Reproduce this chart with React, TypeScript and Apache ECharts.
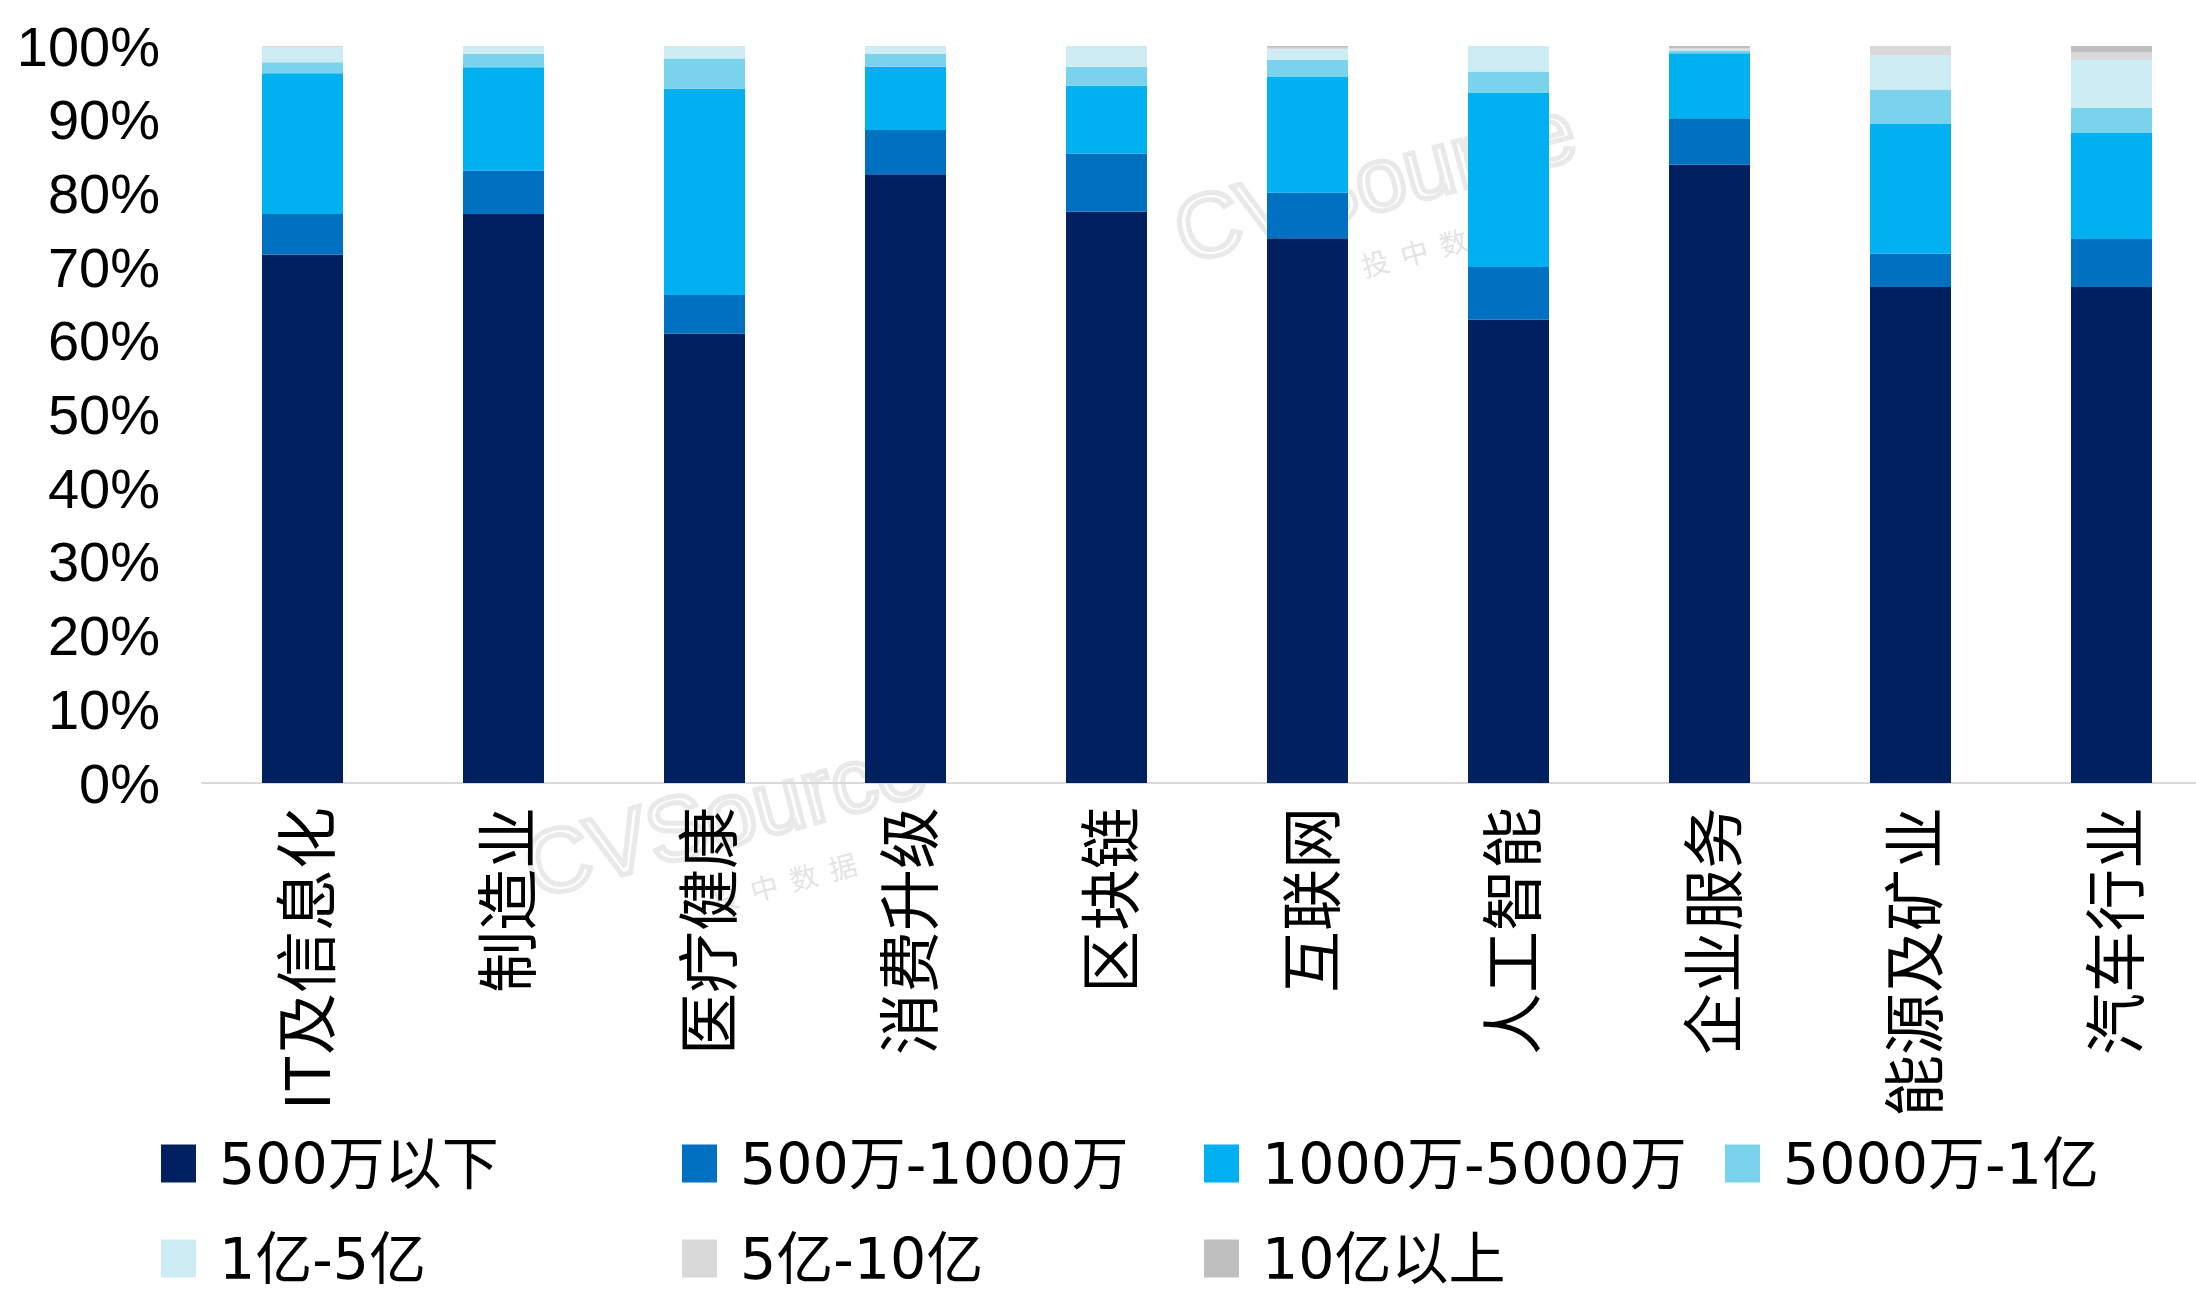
import React, { useEffect, useRef } from "react";
import * as echarts from "echarts";

const categories = ["IT及信息化", "制造业", "医疗健康", "消费升级", "区块链", "互联网", "人工智能", "企业服务", "能源及矿业", "汽车行业"];
const seriesNames = ["500万以下", "500万-1000万", "1000万-5000万", "5000万-1亿", "1亿-5亿", "5亿-10亿", "10亿以上"];
const colors = ["#002060", "#0070C0", "#00B0F0", "#7AD3EC", "#CDECF4", "#D9D9D9", "#BFBFBF"];

const below500w = [71.7, 77.2, 61.0, 82.6, 77.5, 73.9, 62.9, 83.9, 67.3, 67.3];
const w500to1000 = [5.5, 5.9, 5.2, 6.0, 7.9, 6.2, 7.1, 6.3, 4.5, 6.5];
const w1000to5000 = [19.1, 14.0, 28.0, 8.6, 9.2, 15.7, 23.7, 8.8, 17.7, 14.4];
const w5000to1y = [1.5, 1.8, 4.1, 1.7, 2.6, 2.35, 2.85, 0.4, 4.6, 3.4];
const y1to5 = [2.0, 1.1, 1.6, 1.1, 2.8, 1.4, 3.45, 0.1, 4.6, 6.5];
const y5to10 = [0.2, 0, 0.1, 0, 0, 0.2, 0, 0.2, 1.3, 1.1];
const above10y = [0, 0, 0, 0, 0, 0.25, 0, 0.3, 0, 0.8];

const seriesData = [below500w, w500to1000, w1000to5000, w5000to1y, y1to5, y5to10, above10y];
const yTicks = { min: 0, max: 100, interval: 10 };

const legendLefts = [161, 682, 1204, 1725, 161, 682, 1204];
const legendTops = [1135, 1135, 1135, 1135, 1230, 1230, 1230];

const FONT = "'Liberation Sans', 'Noto Sans CJK SC', sans-serif";
const LEGEND_FONT = "'DejaVu Sans', 'Noto Sans CJK SC', sans-serif";

function watermark(x: number, y: number) {
  return {
    type: "group",
    x,
    y,
    rotation: (15 * Math.PI) / 180,
    silent: true,
    children: [
      {
        type: "text",
        x: 0,
        y: 0,
        style: {
          text: "CVSource",
          font: "300 90px 'Liberation Sans', sans-serif",
          fill: "rgba(0,0,0,0)",
          stroke: "rgba(200,200,200,0.4)",
          lineWidth: 5,
        },
      },
      {
        type: "text",
        x: 170,
        y: 110,
        style: {
          text: "投  中  数  据",
          font: "28px 'Noto Sans CJK SC', sans-serif",
          fill: "rgba(200,200,200,0.5)",
        },
      },
    ],
  };
}

export default function App() {
  const ref = useRef<HTMLDivElement>(null);
  useEffect(() => {
    if (!ref.current) return;
    const chart = echarts.init(ref.current, null, { renderer: "svg" });
    chart.setOption({
      animation: false,
      backgroundColor: "#ffffff",
      grid: { left: 202, top: 46, right: 18, bottom: 509, containLabel: false },
      legend: seriesNames.map((name, i) => ({
        data: [name],
        left: legendLefts[i],
        top: legendTops[i],
        itemWidth: 35,
        itemHeight: 38,
        icon: "rect",
        padding: 0,
        textStyle: {
          fontSize: 57,
          lineHeight: 50,
          color: "#000",
          fontFamily: LEGEND_FONT,
          padding: [0, 0, 0, 18],
        },
      })),
      xAxis: {
        type: "category",
        data: categories,
        axisLine: { show: true, lineStyle: { color: "#D9D9D9", width: 2 } },
        axisTick: { show: false },
        axisLabel: {
          rotate: 90,
          interval: 0,
          margin: 24,
          fontSize: 62,
          color: "#000",
          fontFamily: "'Noto Sans CJK SC', sans-serif",
        },
      },
      yAxis: {
        type: "value",
        min: yTicks.min,
        max: yTicks.max,
        interval: yTicks.interval,
        splitLine: { show: false },
        axisLine: { show: false },
        axisTick: { show: false },
        axisLabel: {
          formatter: "{value}%",
          fontSize: 56,
          color: "#000",
          margin: 42,
          fontFamily: FONT,
        },
      },
      series: seriesNames.map((name, i) => ({
        name,
        type: "bar",
        stack: "total",
        barWidth: 81,
        data: seriesData[i],
        itemStyle: { color: colors[i] },
      })),
      graphic: [watermark(1165, 190), watermark(515, 825)],
    });
    return () => chart.dispose();
  }, []);
  return (
    <div style={{ position: "fixed", left: 0, top: 0, width: 2196, height: 1292, overflow: "hidden", background: "#fff" }}>
      <div ref={ref} style={{ position: "absolute", left: 0, top: 0, width: 2230, height: 1292 }} />
    </div>
  );
}
